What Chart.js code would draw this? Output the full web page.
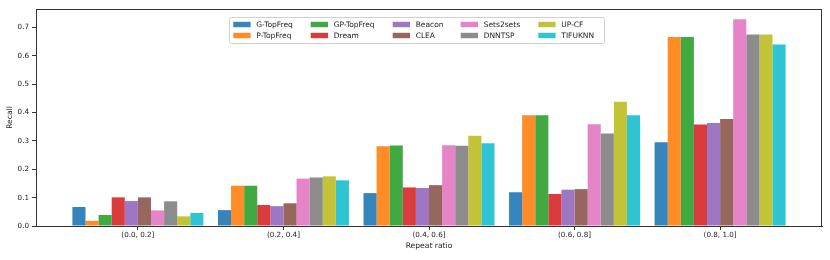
<!DOCTYPE html>
<html><head><meta charset="utf-8">
<script src="https://cdn.jsdelivr.net/npm/chart.js@4/dist/chart.umd.min.js"></script>
<style>html,body{margin:0;padding:0;background:#fff}#wrap{width:830px;height:260px;position:relative}</style>
</head><body><div id="wrap"><canvas id="c" width="830" height="260"></canvas></div>
<script>
const categories = ['(0.0, 0.2]', '(0.2, 0.4]', '(0.4, 0.6]', '(0.6, 0.8]', '(0.8, 1.0]'];
const seriesNames = ['G-TopFreq', 'P-TopFreq', 'GP-TopFreq', 'Dream', 'Beacon', 'CLEA', 'Sets2sets', 'DNNTSP', 'UP-CF', 'TIFUKNN'];
const gTopFreq  = [0.067, 0.056, 0.116, 0.119, 0.295];
const pTopFreq  = [0.018, 0.142, 0.281, 0.390, 0.666];
const gpTopFreq = [0.039, 0.142, 0.284, 0.390, 0.666];
const dream     = [0.101, 0.074, 0.136, 0.113, 0.358];
const beacon    = [0.088, 0.070, 0.134, 0.128, 0.363];
const clea      = [0.101, 0.080, 0.144, 0.130, 0.377];
const sets2sets = [0.055, 0.167, 0.285, 0.359, 0.729];
const dnntsp    = [0.087, 0.171, 0.283, 0.326, 0.675];
const upcf      = [0.034, 0.175, 0.318, 0.438, 0.675];
const tifuknn   = [0.046, 0.161, 0.292, 0.390, 0.640];
const yTickValues = [0.0, 0.1, 0.2, 0.3, 0.4, 0.5, 0.6, 0.7];

const seriesValues = [gTopFreq, pTopFreq, gpTopFreq, dream, beacon, clea, sets2sets, dnntsp, upcf, tifuknn];
const colors = ['rgba(31,119,180,0.9)', 'rgba(255,127,14,0.9)', 'rgba(44,160,44,0.9)', 'rgba(214,39,40,0.9)', 'rgba(148,103,189,0.9)',
                'rgba(140,86,75,0.9)', 'rgba(227,119,194,0.9)', 'rgba(127,127,127,0.9)', 'rgba(188,189,34,0.9)', 'rgba(23,190,207,0.9)'];

const FONT = "'DejaVu Sans', sans-serif";

const datasets = seriesNames.map((name, k) => ({
  label: name,
  data: seriesValues[k].map((v, i) => ({x: i, y: v})),
  backgroundColor: colors[k],
  borderWidth: 0,
  categoryPercentage: 0.9,
  barPercentage: 1.0
}));

const framePlugin = {
  id: 'frame',
  afterDraw(chart) {
    const {ctx, chartArea: a} = chart;
    ctx.save();
    ctx.strokeStyle = '#333';
    ctx.lineWidth = 1;
    ctx.strokeRect(Math.round(a.left) + 0.5, Math.round(a.top) + 0.5, Math.round(a.right - a.left) - 1, Math.round(a.bottom - a.top));
    ctx.restore();
  }
};

const legendPlugin = {
  id: 'mplLegend',
  afterDraw(chart) {
    const ctx = chart.ctx;
    const bx = 229, by = 17, bw = 375, bh = 26;
    const colPatch = [4.3, 81.7, 163.7, 231.7, 309.3];
    const rowY = [24.5, 35.5];
    ctx.save();
    ctx.fillStyle = 'rgba(255,255,255,0.8)';
    ctx.strokeStyle = '#d0d0d0';
    ctx.lineWidth = 1;
    ctx.beginPath();
    ctx.roundRect(bx + 0.5, by + 0.5, bw, bh, 2);
    ctx.fill();
    ctx.stroke();
    ctx.font = '7.5px ' + FONT;
    ctx.textBaseline = 'middle';
    ctx.textAlign = 'left';
    chart.data.datasets.forEach((ds, k) => {
      const col = Math.floor(k / 2), row = k % 2;
      const px = bx + colPatch[col], py = rowY[row];
      ctx.fillStyle = ds.backgroundColor;
      ctx.fillRect(px, py - 2.7, 17.3, 5.4);
      ctx.fillStyle = '#222';
      ctx.fillText(ds.label, px + 23, py + 0.5);
    });
    ctx.restore();
  }
};

new Chart(document.getElementById('c'), {
  type: 'bar',
  data: {datasets},
  options: {
    responsive: false,
    animation: false,
    devicePixelRatio: 1,
    layout: {padding: {top: 9, right: 8, left: 0, bottom: 0}},
    plugins: {legend: {display: false}, tooltip: {enabled: false}},
    scales: {
      x: {
        type: 'linear',
        offset: false,
        min: -0.7, max: 4.7,
        afterBuildTicks: (scale) => { scale.ticks = categories.map((_, i) => ({value: i})); },
        afterFit: (scale) => { scale.height = 34; },
        grid: {display: true, offset: false, drawOnChartArea: false, drawTicks: true, tickLength: 4, color: '#333'},
        border: {display: true, color: '#333'},
        ticks: {
          autoSkip: false, maxRotation: 0, padding: 1, color: '#222',
          font: {family: FONT, size: 7.2},
          callback: (v) => categories[Math.round(v)] ?? ''
        },
        title: {display: true, text: 'Repeat ratio', color: '#222', font: {family: FONT, size: 7.6}, padding: {top: 0, bottom: 9}}
      },
      y: {
        min: 0, max: 0.765,
        afterBuildTicks: (scale) => { scale.ticks = yTickValues.map(v => ({value: v})); },
        afterFit: (scale) => { scale.width = 36; },
        grid: {display: true, drawOnChartArea: false, drawTicks: true, tickLength: 4, color: '#333'},
        border: {display: true, color: '#333'},
        ticks: {
          padding: 3, color: '#222',
          font: {family: FONT, size: 7.2},
          callback: (v) => Number(v).toFixed(1)
        },
        title: {display: true, text: 'Recall', color: '#222', font: {family: FONT, size: 7.6}, padding: {top: 5, bottom: 0}}
      }
    }
  },
  plugins: [framePlugin, legendPlugin]
});
</script>
</body></html>
